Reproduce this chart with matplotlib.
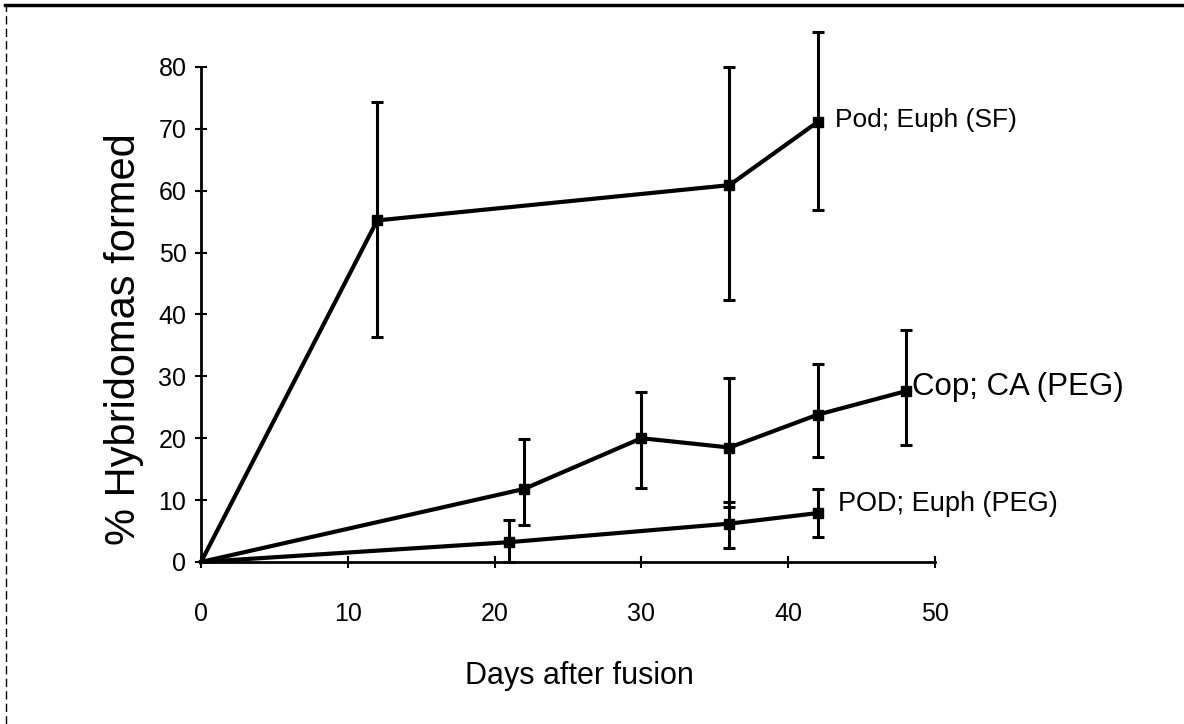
import matplotlib.pyplot as plt
from matplotlib.lines import Line2D

# data
sf_days = [0, 12, 36, 42]
sf_vals = [0, 55.2, 60.9, 71.1]
sf_lo = [0, 36.4, 42.3, 56.9]
sf_hi = [0, 74.4, 80.0, 85.7]

cop_days = [0, 22, 30, 36, 42, 48]
cop_vals = [0, 11.8, 20.0, 18.5, 23.8, 27.6]
cop_lo = [0, 6.0, 12.0, 8.9, 16.9, 18.9]
cop_hi = [0, 19.9, 27.5, 29.7, 32.0, 37.5]

pod_days = [0, 21, 36, 42]
pod_vals = [0, 3.2, 6.2, 7.9]
pod_lo = [0, 0.0, 2.3, 4.1]
pod_hi = [0, 6.8, 9.7, 11.8]

plt.rcParams['font.family'] = ['Liberation Sans', 'DejaVu Sans']

fig = plt.figure(figsize=(11.84, 7.24), dpi=100)
ax = fig.add_axes([0.1698, 0.2238, 0.6199, 0.6837])

def draw(days, vals, lo, hi):
    d, v = days[1:], vals[1:]
    err = [[a - b for a, b in zip(v, lo[1:])], [b - a for a, b in zip(v, hi[1:])]]
    ax.errorbar(d, v, yerr=err, fmt='none', ecolor='black', elinewidth=2.2,
                capsize=4.5, capthick=2.2, clip_on=False)
    ax.plot(days, vals, color='black', lw=3, marker='s', ms=7,
            markevery=list(range(1, len(days))), clip_on=False)

draw(sf_days, sf_vals, sf_lo, sf_hi)
draw(cop_days, cop_vals, cop_lo, cop_hi)
draw(pod_days, pod_vals, pod_lo, pod_hi)

ax.text(43.2, 71.5, 'Pod; Euph (SF)', fontsize=19, va='center')
ax.text(48.4, 28.3, 'Cop; CA (PEG)', fontsize=22.5, va='center')
ax.text(43.4, 9.3, 'POD; Euph (PEG)', fontsize=19.5, va='center')

ax.set_xlim(0, 50)
ax.set_ylim(0, 80)
ax.set_xticks(range(0, 51, 10))
ax.set_yticks(range(0, 81, 10))
for s in ['top', 'right']:
    ax.spines[s].set_visible(False)
for s in ['left', 'bottom']:
    ax.spines[s].set_linewidth(2)
ax.tick_params(axis='both', direction='inout', length=9, width=1.5, labelsize=18)
ax.tick_params(axis='x', pad=24)
ax.tick_params(axis='y', pad=6)

ax.set_xlabel('Days after fusion', fontsize=22)
ax.xaxis.set_label_coords(0.515, -0.20)
ax.set_ylabel('% Hybridomas formed', fontsize=30)
ax.yaxis.set_label_coords(-0.078, 0.45)

# page border bits
fig.add_artist(Line2D([0.004, 1], [0.993, 0.993], color='black', lw=2.5))
fig.add_artist(Line2D([0.005, 0.005], [0.0, 0.993], color='black', lw=1,
                      linestyle=(0, (6, 3))))

fig.savefig('out.png', dpi=100)
